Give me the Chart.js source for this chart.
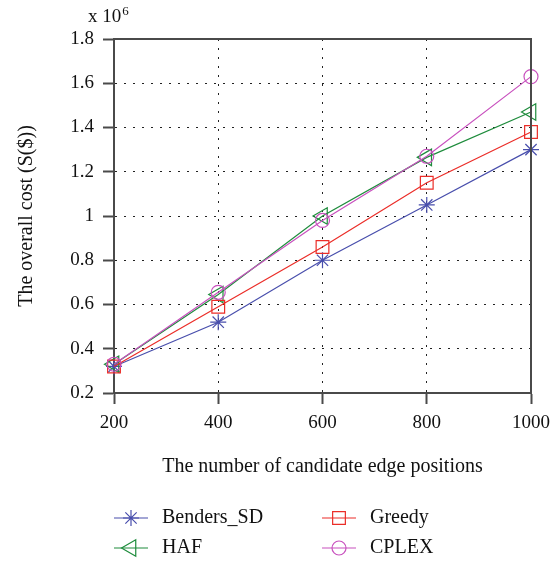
<!DOCTYPE html>
<html>
<head>
<meta charset="utf-8">
<script src="https://cdn.jsdelivr.net/npm/chart.js@4"></script>
<style>
	html, body { margin: 0; padding: 0; background: #fff; }
	#graphique { display: block; }
</style>
</head>
<body>
<canvas id="graphique" width="559" height="562"></canvas>
<script>
// Données (coût en x 10^6)
const positions = [200, 400, 600, 800, 1000];
const bendersSD = [0.32, 0.52, 0.80, 1.05, 1.30];
const haf = [0.33, 0.645, 1.00, 1.265, 1.47];
const greedy = [0.32, 0.59, 0.86, 1.15, 1.38];
const cplex = [0.33, 0.655, 0.98, 1.27, 1.63];
const yTicks = [0.2, 0.4, 0.6, 0.8, 1, 1.2, 1.4, 1.6, 1.8];

const police = 'Liberation Serif';

function serie(label, valeurs, couleur, style, rayon, rotation, ordre) {
	return {
		label: label,
		data: positions.map((x, i) => ({ x: x, y: valeurs[i] })),
		borderColor: couleur,
		backgroundColor: 'transparent',
		borderWidth: 1.2,
		pointStyle: style,
		pointRadius: rayon,
		pointRotation: rotation,
		pointBorderWidth: 1.2,
		pointBorderColor: couleur,
		pointBackgroundColor: 'transparent',
		tension: 0,
		clip: false,
		order: ordre,
	};
}

const datasets = [
	serie('Benders_SD', bendersSD, 'rgb(72, 78, 172)', 'star', 8, 0, 4),
	serie('HAF', haf, 'rgb(30, 140, 60)', 'triangle', 9.5, -90, 3),
	serie('Greedy', greedy, 'rgb(235, 45, 40)', 'rect', 9, 0, 2),
	serie('CPLEX', cplex, 'rgb(200, 80, 190)', 'circle', 7, 0, 1),
];

// Cadre, facteur x 10^6 et légende dessinés à la main
const decor = {
	id: 'decor',
	afterDraw(chart) {
		const ctx = chart.ctx;
		const a = chart.chartArea;
		ctx.save();
		ctx.strokeStyle = '#4a4a4a';
		ctx.lineWidth = 2;
		ctx.beginPath();
		ctx.moveTo(a.left, a.top);
		ctx.lineTo(a.right, a.top);
		ctx.lineTo(a.right, a.bottom);
		ctx.stroke();

		ctx.fillStyle = '#111';
		ctx.textBaseline = 'alphabetic';
		ctx.textAlign = 'left';
		ctx.font = '19px "' + police + '"';
		ctx.fillText('x 10', 88, 22);
		const largeur = ctx.measureText('x 10').width;
		ctx.font = '13px "' + police + '"';
		ctx.fillText('6', 88 + largeur + 1, 15);

		// Légende sur deux colonnes
		const places = [
			{ x: 114, y: 518 },
			{ x: 114, y: 548 },
			{ x: 322, y: 518 },
			{ x: 322, y: 548 },
		];
		datasets.forEach((ds, i) => {
			const p = places[i];
			ctx.strokeStyle = ds.borderColor;
			ctx.fillStyle = 'rgba(0, 0, 0, 0)';
			ctx.lineWidth = 1.2;
			ctx.beginPath();
			ctx.moveTo(p.x, p.y);
			ctx.lineTo(p.x + 34, p.y);
			ctx.stroke();
			Chart.helpers.drawPoint(ctx, {
				pointStyle: ds.pointStyle,
				radius: ds.pointRadius,
				rotation: ds.pointRotation,
				borderWidth: 1.2,
			}, p.x + 17, p.y);
			ctx.fillStyle = '#111';
			ctx.font = '20px "' + police + '"';
			ctx.textBaseline = 'middle';
			ctx.fillText(ds.label, p.x + 48, p.y);
		});
		ctx.restore();
	},
};

const grille = {
	color: '#222',
	lineWidth: 1,
	tickLength: 11,
	tickBorderDash: [],
	tickColor: '#4a4a4a',
	tickWidth: 2,
};

const config = {
	type: 'line',
	data: { datasets: datasets },
	options: {
		responsive: false,
		animation: false,
		layout: { padding: { left: 11, top: 39, right: 28, bottom: 79 } },
		plugins: { legend: { display: false }, tooltip: { enabled: false } },
		scales: {
			x: {
				type: 'linear',
				min: 200,
				max: 1000,
				ticks: {
					stepSize: 200,
					padding: 8,
					color: '#111',
					font: { family: police, size: 19 },
					callback: (v) => String(v),
				},
				grid: grille,
				border: { color: '#4a4a4a', width: 2, dash: [2, 7] },
				title: {
					display: true,
					text: 'The number of candidate edge positions',
					color: '#111',
					font: { family: police, size: 20 },
					padding: { top: 4, bottom: 4 },
				},
				afterFit(scale) { scale.height = 90; },
			},
			y: {
				type: 'linear',
				min: 0.2,
				max: 1.8,
				afterBuildTicks(scale) {
					scale.ticks = yTicks.map((v) => ({ value: v }));
				},
				ticks: {
					padding: 9,
					color: '#111',
					font: { family: police, size: 19 },
					callback: (v) => String(+v.toFixed(1)),
				},
				grid: grille,
				border: { color: '#4a4a4a', width: 2, dash: [2, 7] },
				title: {
					display: true,
					text: 'The overall cost (S($))',
					color: '#111',
					font: { family: police, size: 20 },
					padding: { top: 4, bottom: 4 },
				},
				afterFit(scale) { scale.width = 103; },
			},
		},
	},
	plugins: [decor],
};

new Chart(document.querySelector('#graphique'), config);
</script>
</body>
</html>
